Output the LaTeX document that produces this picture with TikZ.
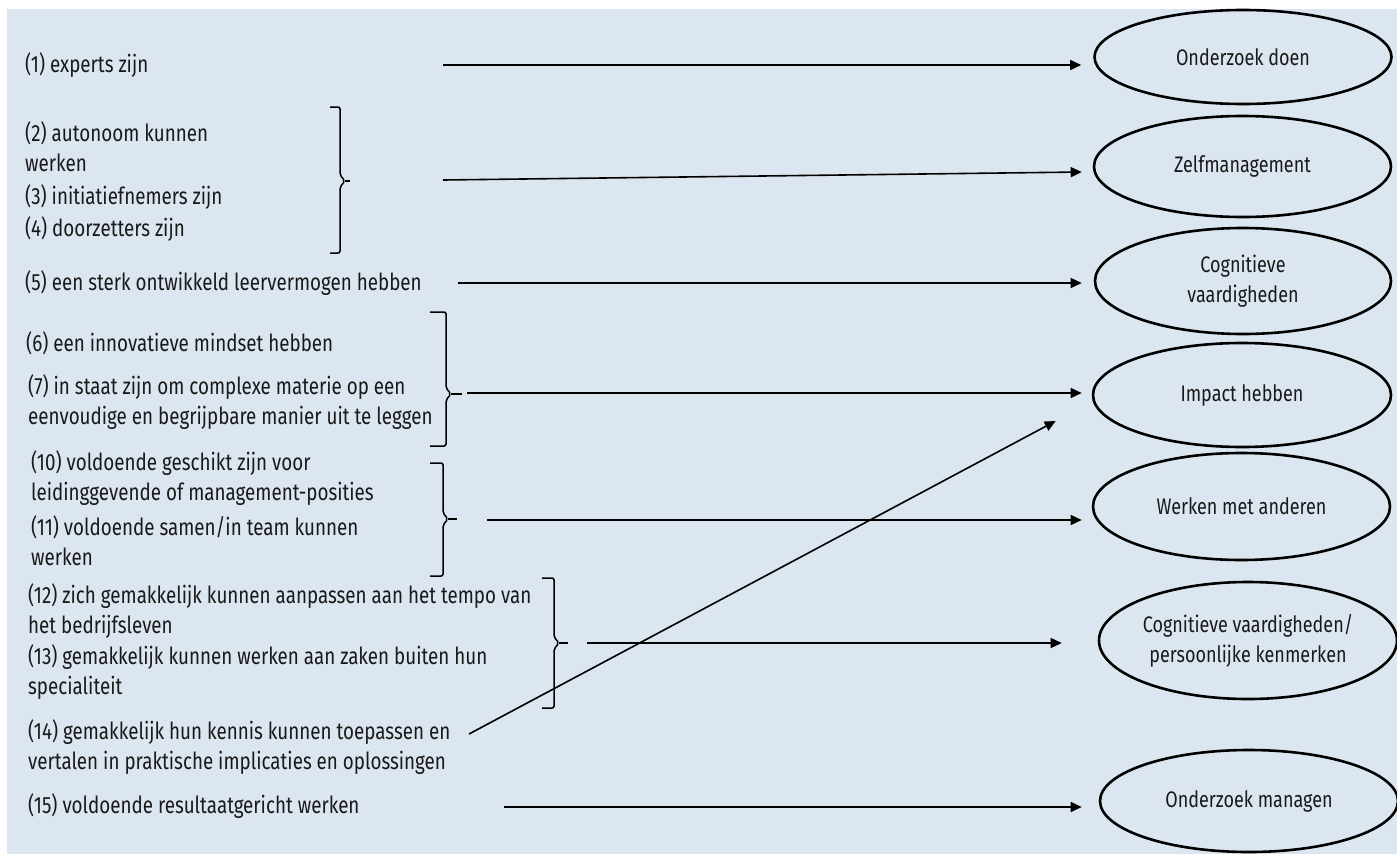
\documentclass[tikz,border=0pt]{standalone}
\usepackage{fontspec}
\setmainfont{Fira Sans}[FakeStretch=0.80]
\usetikzlibrary{shapes.geometric,arrows.meta}
\definecolor{bgblue}{RGB}{220,230,241}
\definecolor{ink}{RGB}{25,25,25}
\newcommand\mybrk[6]{% x, top, mid, bot, hook-left x, tick end x
  \draw[brace] (#5,#2) -- (#1,#2) -- (#1,#3-6) -- (#1+5,#3) -- (#1,#3+6) -- (#1,#4) -- (#5,#4);
  \draw[brace] (#1+5,#3) -- (#6,#3);}
\begin{document}
\begin{tikzpicture}[x=1pt,y=-1pt,
  lbl/.style={anchor=west,inner sep=0pt,align=left,text=ink,font=\fontsize{23.5}{30}\selectfont},
  goal/.style={draw=black,line width=2.6pt,ellipse,inner sep=0pt,align=center,text=ink,font=\fontsize{22.5}{30}\selectfont},
  conn/.style={draw=black,line width=1.6pt,-{Triangle[length=11pt,width=10pt]}},
  brace/.style={draw=black,line width=1.5pt,rounded corners=2pt}]
\useasboundingbox (0,0) rectangle (1397,854);
\fill[bgblue] (7,9) rectangle (1397,854);

% left items
\node[lbl] (t1) at (25,65) {(1) experts zijn};
\node[lbl] (t2) at (25,147) {(2) autonoom kunnen\\werken};
\node[lbl] (t3) at (25,197) {(3) initiatiefnemers zijn};
\node[lbl] (t4) at (25,229) {(4) doorzetters zijn};
\node[lbl] (t5) at (25,283) {(5) een sterk ontwikkeld leervermogen hebben};
\node[lbl] (t6) at (26,343) {(6) een innovatieve mindset hebben};
\node[lbl] (t7) at (28,402.5) {(7) in staat zijn om complexe materie op een\\eenvoudige en begrijpbare manier uit te leggen};
\node[lbl] (t10) at (31,478.5) {(10) voldoende geschikt zijn voor\\leidinggevende of management-posities};
\node[lbl] (t11) at (31,541) {(11) voldoende samen/in team kunnen\\werken};
\node[lbl] (t12) at (28,611) {(12) zich gemakkelijk kunnen aanpassen aan het tempo van\\het bedrijfsleven};
\node[lbl] (t13) at (28,672) {(13) gemakkelijk kunnen werken aan zaken buiten hun\\specialiteit};
\node[lbl] (t14) at (28,747) {(14) gemakkelijk hun kennis kunnen toepassen en\\vertalen in praktische implicaties en oplossingen};
\node[lbl] (t15) at (28,806) {(15) voldoende resultaatgericht werken};

% goal ellipses
\node[goal,minimum width=297pt,minimum height=94pt] (e1) at (1243,57) {Onderzoek doen};
\node[goal,minimum width=297pt,minimum height=101pt] (e2) at (1242.5,166.5) {Zelfmanagement};
\node[goal,minimum width=296pt,minimum height=106pt] (e3) at (1243,281) {Cognitieve\\vaardigheden};
\node[goal,minimum width=298pt,minimum height=104pt] (e4) at (1242,395) {Impact hebben};
\node[goal,minimum width=297pt,minimum height=107pt] (e5) at (1241.5,506.5) {Werken met anderen};
\node[goal,minimum width=298pt,minimum height=117pt] (e6) at (1248,640.5) {Cognitieve vaardigheden/\\persoonlijke kenmerken};
\node[goal,minimum width=298pt,minimum height=102pt] (e7) at (1249,801) {Onderzoek managen};

% brackets
\mybrk{340}{107}{181}{253}{330}{350}
\mybrk{446}{312}{394}{446}{430}{462}
\mybrk{443}{463}{519}{576}{430}{457}
\mybrk{554}{578}{643}{708}{542}{568}

% connector starts
\coordinate (s1) at (443,65);
\coordinate (s2) at (443,180);
\coordinate (s3) at (458,283);
\coordinate (s4) at (467,393);
\coordinate (s5) at (487,520);
\coordinate (s6) at (587,643);
\coordinate (s7) at (504,807);
\coordinate (s14) at (469,734);

\draw[conn] (s1) -- ([shift={(-12,8)}]e1.west);
\draw[conn] (s2) -- ([shift={(-11,5.5)}]e2.west);
\draw[conn] (s3) -- ([shift={(-12,2)}]e3.west);
\draw[conn] (s4) -- ([shift={(-10,-2)}]e4.west);
\draw[conn] (s5) -- ([shift={(-10,13.5)}]e5.west);
\draw[conn] (s6) -- ([shift={(-36,2.5)}]e6.west);
\draw[conn] (s7) -- ([shift={(-17,6)}]e7.west);
\draw[conn] (s14) -- ([shift={(-36,26)}]e4.west);
\end{tikzpicture}
\end{document}
